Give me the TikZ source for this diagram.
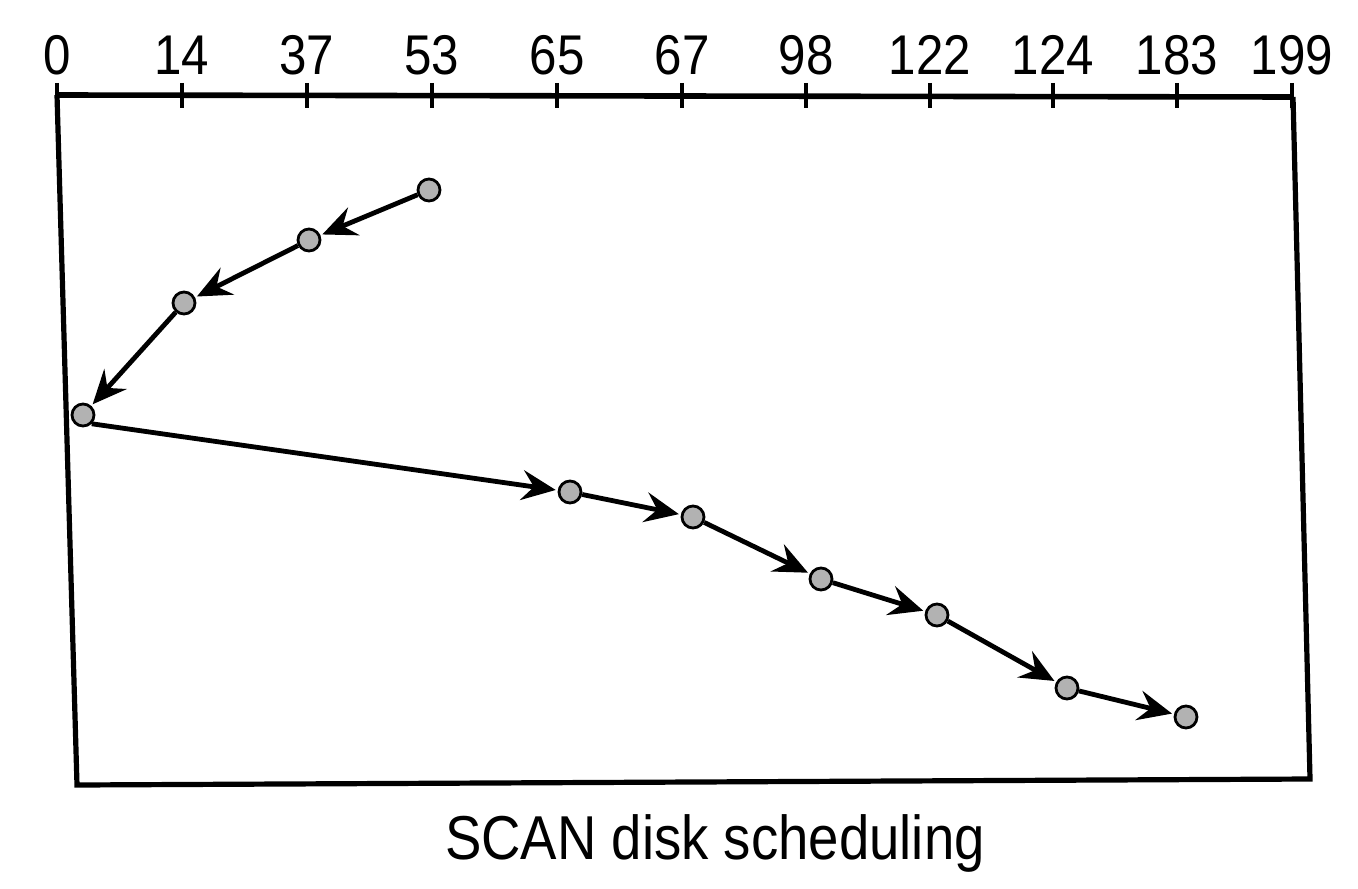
\documentclass[tikz,border=0pt]{standalone}
\usepackage{fontspec}
\setmainfont{Liberation Sans}
\newfontfamily\narrowsans[FakeStretch = 0.88]{Liberation Sans}
\usetikzlibrary{arrows.meta}
\tikzset{
	disk/.style = {circle, draw = black, line width = 1.4pt, fill = gray!60, inner sep = 0pt, minimum size = 11pt},
	move/.style = {line width = 2.4pt, -{Stealth[length = 17pt, width = 15pt, inset = 6pt]}, shorten > = 1pt},
	cyl/.style = {anchor = base, font = \narrowsans\fontsize{28}{32}\selectfont}
}
\begin{document}
\begin{tikzpicture}[x = 0.5pt, y = -0.5pt]
			\useasboundingbox (0, 0) rectangle (1358, 888);
			% frame and cylinder axis
			\draw[line width = 2.8pt] (57, 95) -- (1293, 97);
			\draw[line width = 2.6pt] (57, 95) -- (77, 785) -- (1310, 779) -- (1293, 97);
			\foreach \v/\x in {0/57, 14/182, 37/307, 53/432, 65/557, 67/682, 98/806, 122/930, 124/1053, 183/1177, 199/1292}{
				\node[cyl] (t\v) at (\x, 75) {\v};
				\draw[line width = 1.6pt] (\x, 83) -- (\x, 108);
			}
			% requests
			\node[disk] (c53) at (429, 190) {};
			\node[disk] (c37) at (309, 240) {};
			\node[disk] (c14) at (184, 303) {};
			\node[disk] (c0) at (83, 415) {};
			\node[disk] (c65) at (570, 492) {};
			\node[disk] (c67) at (693, 517) {};
			\node[disk] (c98) at (821, 579) {};
			\node[disk] (c122) at (937, 615) {};
			\node[disk] (c124) at (1067, 688) {};
			\node[disk] (c183) at (1186, 717) {};
			% head movement
			\draw[move] (c53) -- (c37);
			\draw[move] (c37) -- (c14);
			\draw[move] (c14) -- (c0);
			\draw[move] (c0.south east) -- (c65);
			\draw[move] (c65) -- (c67);
			\draw[move] (c67) -- (c98);
			\draw[move] (c98) -- (c122);
			\draw[move] (c122) -- (c124);
			\draw[move] (c124) -- (c183);
			\node[font = \narrowsans\fontsize{31}{36}\selectfont] (title) at (715, 843) {SCAN disk scheduling};
\end{tikzpicture}
\end{document}
